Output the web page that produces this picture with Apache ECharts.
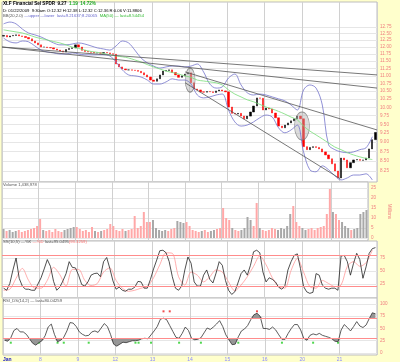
<!DOCTYPE html>
<html><head><meta charset="utf-8">
<script src="https://cdn.jsdelivr.net/npm/echarts@6/dist/echarts.min.js"></script>
<style>html,body{margin:0;padding:0;background:#ffffcc}#c{width:400px;height:362px}</style>
</head><body><div id="c"></div>
<script>
// ---------------- DATA ----------------
const dayLabels = ['Jan','8','9','12','13','14','15','16','20','21'];
const barsPerDay = 12;
const firstOpen = 12.40;
const closes = [
 12.43,12.37,12.41,12.43,12.45,12.41,12.39,12.35,12.30,12.22,12.15,12.08,
 12.00,12.00,11.98,11.97,11.93,11.89,11.86,11.82,11.91,11.95,11.97,12.08,
 12.00,11.88,11.84,11.82,11.81,11.79,11.79,11.78,11.80,11.79,11.76,11.74,
 11.40,11.30,11.23,11.20,11.20,11.19,11.18,11.15,11.10,11.03,10.96,10.86,
 10.82,10.90,11.03,11.16,11.18,11.20,11.11,11.03,10.95,11.00,11.06,11.10,
 10.77,10.57,10.54,10.48,10.47,10.49,10.48,10.46,10.51,10.54,10.51,10.48,
 10.01,9.82,9.80,9.82,9.74,9.66,9.74,9.86,10.04,10.29,10.28,9.92,
 9.98,9.95,9.83,9.69,9.45,9.40,9.48,9.54,9.60,9.66,9.74,9.66,
 8.88,8.80,8.86,8.88,8.86,8.82,8.74,8.66,8.56,8.43,8.25,8.08,
 8.58,8.53,8.33,8.46,8.53,8.54,8.52,8.53,8.58,8.82,9.07,9.27];
const volumes = [
 4.5,3.5,4,3,3.5,4,3,3.5,4,4.5,5,6,
 9.5,4,3.5,4,3,4.5,3.5,3,4,4.5,5,5.5,
 5.5,4.5,3.5,4,3,5.5,3.5,3,3.5,4,4.5,7,
 6,4,3.5,4.5,3.5,4,4.5,11,5,6,13,8,
 8,9,5,4,3.5,4,3.5,4.5,5,8.5,8,7.5,
 8,6,4,3.5,3,3.5,4,3,3.5,4,4.5,5,
 15,10,9,5,4,3.5,4,5,10.5,9,6,17.5,
 5,4,3.5,4,5,4.5,4,5,4.5,6,12,16,
 8,6,5,4,4.5,5,4,5,5.5,6,12,24.5,
 13,12,9,8,6,5,4,4.5,5,12,13,14];
// Bollinger bands and MA(50): one value every 2 bars
const bbUpper = [
 12.87,12.94,12.87,12.67,12.52,12.45,12.37,12.26,12.15,12.08,
 12.08,12.11,12.15,12.11,12.04,11.97,11.93,11.89,12.04,12.22,
 12.15,11.89,11.61,11.44,11.33,11.26,11.30,11.33,11.33,11.30,
 11.33,11.40,11.13,10.73,10.60,10.64,10.93,11.06,10.70,10.45,
 10.38,10.41,10.38,10.32,10.26,10.20,10.07,9.92,10.54,10.70,
 10.60,10.07,8.93,8.80,8.74,8.72,8.74,8.80,8.85,9.15];
const bbLower = [
 12.33,12.19,12.15,12.22,12.19,12.04,11.89,11.82,11.79,11.75,
 11.75,11.79,11.75,11.72,11.72,11.72,11.72,11.68,11.47,11.20,
 11.03,11.00,10.96,10.86,10.73,10.73,10.80,10.90,10.86,10.86,
 10.73,10.38,10.29,10.32,10.38,10.41,9.92,9.57,9.45,9.48,
 9.57,9.69,9.77,9.71,9.40,9.26,9.34,9.48,8.74,8.28,
 8.23,8.38,8.28,8.13,8.03,8.08,8.15,8.15,8.18,8.03];
const ma50 = [
 12.64,12.60,12.56,12.52,12.45,12.37,12.31,12.26,12.20,12.15,
 12.08,12.00,11.95,11.89,11.84,11.81,11.77,11.72,11.68,11.65,
 11.61,11.54,11.47,11.38,11.30,11.23,11.16,11.11,11.06,11.00,
 10.95,10.86,10.83,10.80,10.77,10.70,10.54,10.41,10.32,10.23,
 10.17,10.09,10.01,9.95,9.88,9.80,9.71,9.63,9.45,9.31,
 9.20,9.09,8.98,8.87,8.80,8.72,8.66,8.61,8.57,8.54];
const ssK = [
 17,13,26,52,75,36,21,15,15,13,13,25,
 37,54,72,59,30,13,19,31,45,68,57,56,
 42,24,21,29,42,45,46,39,68,76,55,31,
 15,19,13,11,15,15,19,30,29,17,17,34,
 54,71,89,90,85,68,39,17,13,21,52,77,
 65,29,21,21,42,52,34,27,46,68,61,32,
 13,5,10,27,45,52,42,61,87,90,85,48,
 29,37,34,29,19,15,21,52,68,80,83,55,
 20,10,7,9,45,42,23,17,15,17,17,13,
 79,80,68,42,65,84,72,36,58,84,93,95];
const ssD = [
 13,15,36,55,32,17,17,32,57,43,
 21,53,53,32,22,26,48,56,32,17,
 11,13,17,20,37,62,85,84,39,23,
 48,42,29,39,52,48,29,12,23,39,
 59,79,62,37,20,17,51,74,48,20,
 17,32,26,20,23,59,68,59,66,90];
const rsi = [
 26,24,31,46,50,43,43,38,29,20,16,21,
 25,35,53,59,38,23,26,32,45,62,61,54,
 43,38,35,36,43,45,42,51,60,54,38,18,
 14,18,22,21,23,25,25,26,29,30,29,37,
 45,54,69,71,68,56,44,32,30,40,53,46,
 30,27,28,31,41,51,48,53,59,66,54,37,
 27,17,18,33,45,49,56,68,78,81,75,50,
 50,48,53,47,37,28,28,40,50,58,58,47,
 30,26,36,39,37,40,36,34,32,29,24,23,
 47,58,52,45,54,64,55,52,57,70,82,80];
const buySignalBars = [2,11,17,19,27,42,43,47,56,63,75,89,99,107];
const sellSignalBars = [51,53,81];
// trend lines: [barIndex, price] endpoints
const trendLines = [
 [[0,12.00],[120,11.03]],
 [[0,12.00],[120,10.60]],
 [[58.6,11.13],[120,9.34]],
 [[58.6,10.77],[108.2,8.06]]];
// annotation ellipses: [barIndex, price]
const annotations = [[60.2,10.86],[96.0,9.45]];
const priceTicks = [12.75,12.5,12.25,12,11.75,11.5,11.25,11,10.75,10.5,10.25,10,9.75,9.5,9.25,9,8.75,8.5,8.25];
const priceRange = [7.98, 13.75];
const volTicks = [0,5,10,15,20,25];
const volRange = [-1.5, 28];
const ssTicks = [25,50,75];
const ssRange = [-1.9, 107.7];
const ssBands = [80,20];
const rsiTicks = [0,25,50,75,100];
const rsiRange = [-4.1, 112.2];
const rsiBands = [70,30];
const lastPrice = 9.27;
const volBoxValue = 22;
const headerLine1 = ['XLF Financial Sel SPDR','9.27','1.19','14.72%'];
const headerLine2 = 'D: 01/22/2009  9:30am O:12.32 H:12.38 L:12.32 C:12.36 R:0.06 V:11.8806';
const headerLine3 = ['BB(20,2.0)','—upper —lower  last=9.21637;8.20065','MA(50) — last=8.54454'];
const volumeTitle = 'Volume 1,438,978';
const ssTitle = ['SS(10,5) —%K','—%D','last=95.0495','(93.3259)'];
const rsiTitle = 'RSI_DS(14,2) — last=80.04259';

// ---------------- CHART ----------------
const L = Math.log;
const FONT = 'Liberation Sans';
const nBars = dayLabels.length * barsPerDay;
const chart = echarts.init(document.getElementById('c'), null, {renderer:'canvas'});
const salmon = '#f08080';

const ohlc = closes.map((c,i) => {
  const o = i ? closes[i-1] : firstOpen;
  return [i + 0.5, L(o), L(c), L(Math.min(o,c)), L(Math.max(o,c))];
});
const isUp = i => closes[i] >= (i ? closes[i-1] : firstOpen);

function xAxis(gi, labels) {
  return {
    gridIndex: gi, type: 'value', min: 0, max: nBars, interval: barsPerDay,
    axisLine: {show:false}, axisTick: {show:false},
    splitLine: {show:true, lineStyle:{color:'#d0d0d0', width:1}},
    axisLabel: labels ? {
      show: true, margin: 2, showMaxLabel: false, alignMinLabel: 'left',
      formatter: v => { const d = Math.round(v / barsPerDay); if (d >= dayLabels.length) return '';
        return d === 0 ? '{m|' + dayLabels[d] + '}' : '{d|' + dayLabels[d] + '}'; },
      rich: { m:{color:'#2020c0', fontWeight:'bold', fontSize:5, fontFamily:FONT},
              d:{color:'#8a8aff', fontSize:5, fontFamily:FONT} }
    } : {show:false}
  };
}
function yAxis(gi, range, ticks, fmt, extra) {
  return Object.assign({
    gridIndex: gi, type: 'value', position: 'right', min: range[0], max: range[1],
    axisLine: {show:false},
    axisTick: {show:false, customValues: ticks},
    axisLabel: {customValues: ticks, formatter: fmt, color: salmon, fontSize: 4.6, fontFamily: FONT, margin: 3},
    splitLine: {show:true, lineStyle:{color:'#e6e6e6', width:1}}
  }, extra || {});
}

const everyTwo = (arr, f) => arr.map((v,j) => [2*j + 0.5, f ? f(v) : v]);
const lineS = (xi, data, color, w, extra) => Object.assign({
  type:'line', xAxisIndex:xi, yAxisIndex:xi, data, showSymbol:false, symbol:'none',
  lineStyle:{color, width:w}, silent:true, animation:false}, extra || {});

const series = [];
series.push(lineS(0, everyTwo(bbUpper, L), '#7474cc', 0.8, {smooth:0.35}));
series.push(lineS(0, everyTwo(bbLower, L), '#7474cc', 0.8, {smooth:0.35}));
series.push(lineS(0, everyTwo(ma50, L), '#77dd77', 0.8, {smooth:0.3,
  markLine: {symbol:'none', silent:true, data:[{yAxis: L(lastPrice)}], lineStyle:{opacity:0},
    label:{position:'end', distance:0, formatter: lastPrice.toFixed(2), backgroundColor:'#000', color:'#fff',
      fontSize:5, fontFamily:FONT, padding:[1.5,8,1.5,2]}}}));
trendLines.forEach(t => series.push(lineS(0, t.map(p => [p[0], L(p[1])]), '#555', 0.8)));
series.push({type:'candlestick', xAxisIndex:0, yAxisIndex:0, data: ohlc, barWidth: 1.8, silent:true, animation:false,
  itemStyle:{color:'#000', color0:'#ff0000', borderColor:'#000', borderColor0:'#ff0000', borderWidth:0.5}});
series.push({type:'scatter', xAxisIndex:0, yAxisIndex:0, silent:true, animation:false,
  data: annotations.map(a => [a[0], L(a[1])]), symbol:'circle',
  symbolSize: (v, p) => p.dataIndex === 0 ? [10, 24] : [15, 28],
  itemStyle:{color:'rgba(175,175,175,0.55)', borderColor:'#777', borderWidth:0.8}});

// volume
series.push({type:'bar', xAxisIndex:1, yAxisIndex:1, barWidth: 2, silent:true, animation:false,
  data: volumes.map((v,i) => ({value:[i+0.5, v], itemStyle:{color: isUp(i) ? '#a8a8a8' : '#ffa8a8'}})),
  markLine:{symbol:'none', silent:true, data:[{yAxis: volBoxValue}], lineStyle:{opacity:0},
    label:{position:'end', distance:0, formatter: volBoxValue + ' M', backgroundColor:'#000', color:'#fff',
      fontSize:5, fontFamily:FONT, padding:[1.5,6,1.5,2]}}});

// SS
series.push(lineS(2, ssD.map((v,j)=>[2*j+0.5, v]), '#ff9a9a', 0.8, {smooth:0.3,
  markLine:{symbol:'none', silent:true, label:{show:false}, lineStyle:{color:'#ff8c8c', width:1, type:'solid'},
    data: ssBands.map(b => ({yAxis:b}))}}));
series.push(lineS(2, ssK.map((v,i)=>[i+0.5, v]), '#222', 0.8));

// RSI
series.push(lineS(3, rsi.map((v,i)=>[i+0.5, Math.min(v, rsiBands[1])]), '#888', 0,
  {areaStyle:{color:'#8c8c8c', opacity:0.9, origin: rsiBands[1]}, lineStyle:{width:0}}));
series.push(lineS(3, rsi.map((v,i)=>[i+0.5, Math.max(v, rsiBands[0])]), '#888', 0,
  {areaStyle:{color:'#8c8c8c', opacity:0.9, origin: rsiBands[0]}, lineStyle:{width:0}}));
series.push(lineS(3, rsi.map((v,i)=>[i+0.5, v]), '#333', 0.8, {
  markLine:{symbol:'none', silent:true, label:{show:false}, lineStyle:{color:'#ff8c8c', width:1, type:'solid'},
    data: rsiBands.map(b => ({yAxis:b}))}}));
series.push({type:'scatter', xAxisIndex:3, yAxisIndex:3, silent:true, animation:false, symbol:'rect', symbolSize:2,
  data: buySignalBars.map(i => [i+0.5, 21]), itemStyle:{color:'#22cc22'}});
series.push({type:'scatter', xAxisIndex:3, yAxisIndex:3, silent:true, animation:false, symbol:'rect', symbolSize:2,
  data: sellSignalBars.map(i => [i+0.5, 85]), itemStyle:{color:'#ee2222'}});

const gridBase = {left:2, right:23, show:true, backgroundColor:'#fff', borderColor:'#bdbdbd', borderWidth:1};
const t = (top, text, rich) => ({left:3, top, padding:0, text,
  textStyle:{fontSize:4.4, fontFamily:FONT, color:'#555', fontWeight:'normal', rich}});

chart.setOption({
  animation:false,
  backgroundColor:'#ffffcc',
  grid:[
    Object.assign({top:2, height:180}, gridBase),
    Object.assign({top:182, height:59}, gridBase),
    Object.assign({top:241, height:57}, gridBase),
    Object.assign({top:298, height:57}, gridBase)],
  xAxis:[xAxis(0,false), xAxis(1,false), xAxis(2,false), xAxis(3,true)],
  yAxis:[
    yAxis(0, priceRange.map(L), priceTicks.map(L), v => Math.exp(v).toFixed(2)),
    yAxis(1, volRange, volTicks, v => String(v), {name:'Millions', nameLocation:'middle', nameRotate:-90, nameGap:13,
      nameTextStyle:{color:salmon, fontSize:4.6, fontFamily:FONT}}),
    yAxis(2, ssRange, ssTicks, v => String(v)),
    yAxis(3, rsiRange, rsiTicks, v => String(v))],
  title:[
    t(1.5, '{b|' + headerLine1[0] + '}  {b|' + headerLine1[1] + '}  {g|' + headerLine1[2] + '}  {g|' + headerLine1[3] + '}',
      {b:{fontWeight:'bold', color:'#000', fontSize:4.6, fontFamily:FONT}, g:{fontWeight:'bold', color:'#22aa22', fontSize:4.6, fontFamily:FONT}}),
    t(8.5, '{k|' + headerLine2 + '}', {k:{color:'#000', fontSize:4.2, fontFamily:FONT}}),
    t(13.5, '{k|' + headerLine3[0] + '} {u|' + headerLine3[1] + '}  {m|' + headerLine3[2] + '}',
      {k:{color:'#555', fontSize:4.2, fontFamily:FONT}, u:{color:'#6666cc', fontSize:4.2, fontFamily:FONT}, m:{color:'#33bb33', fontSize:4.2, fontFamily:FONT}}),
    t(183, '{k|' + volumeTitle + '}', {k:{color:'#555', fontSize:4.2, fontFamily:FONT}}),
    t(240, '{k|' + ssTitle[0] + '} {p|' + ssTitle[1] + '} {k|' + ssTitle[2] + '}{p|' + ssTitle[3] + '}',
      {k:{color:'#555', fontSize:4.2, fontFamily:FONT}, p:{color:'#ff7070', fontSize:4.2, fontFamily:FONT}}),
    t(298.5, '{k|' + rsiTitle + '}', {k:{color:'#555', fontSize:4.2, fontFamily:FONT}})
  ],
  series
});
</script></body></html>
